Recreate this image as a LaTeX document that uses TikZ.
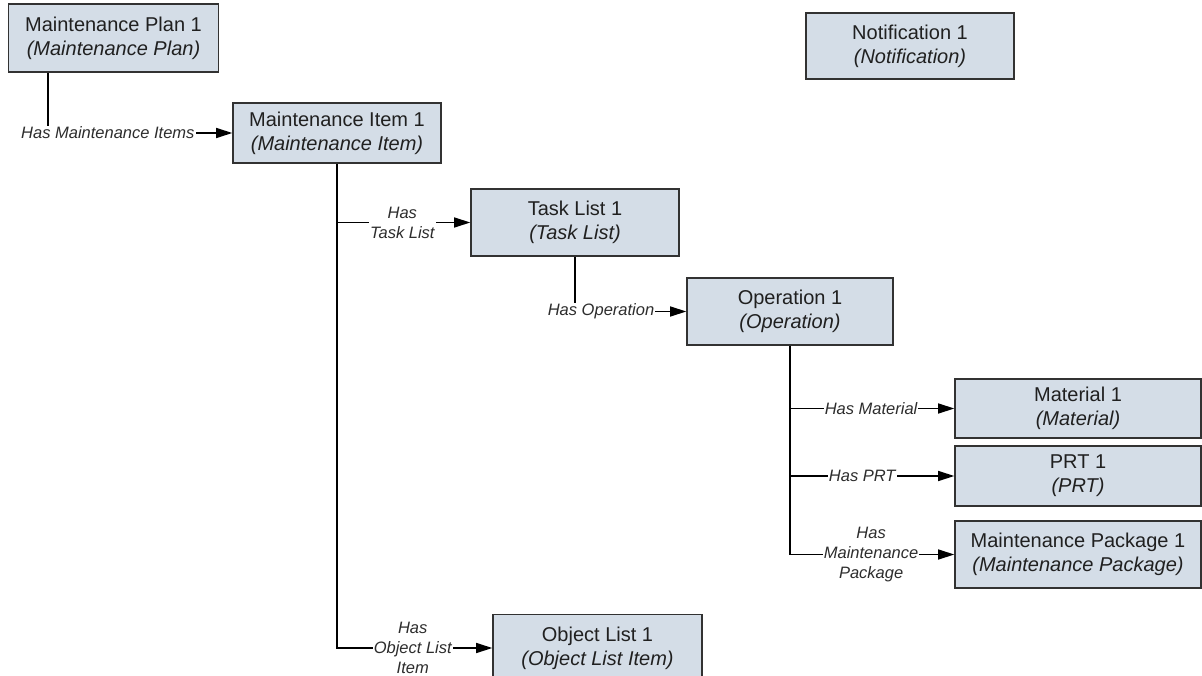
\documentclass[tikz,border=0pt]{standalone}
\usepackage{fontspec}
\setmainfont{Liberation Sans}
\usetikzlibrary{positioning, arrows.meta}
\definecolor{boxfill}{RGB}{212,221,231}
\definecolor{boxline}{RGB}{50,50,50}
\definecolor{boxtext}{RGB}{32,32,32}
\definecolor{labtext}{RGB}{45,45,45}

\begin{document}
\begin{tikzpicture}[x=1pt, y=-1pt,
  entity/.style={draw=boxline, fill=boxfill, line width=1.6pt, align=center,
    inner sep=0pt, text=boxtext, font=\fontsize{20}{24}\selectfont},
  rel/.style={draw=black, line width=1.6pt, -{Triangle[length=16pt,width=10pt]}},
  lab/.style={fill=white, inner sep=1pt, align=center, text=labtext,
    font=\fontsize{16.5}{20}\selectfont\itshape}]
  \useasboundingbox (0,0) rectangle (1202,676);

  \node[entity, minimum width=210pt, minimum height=68pt] (plan) at (113.5,38)
    {Maintenance Plan 1\\\textit{(Maintenance Plan)}};
  \node[entity, minimum width=208pt, minimum height=66pt] (notif) at (910,46)
    {Notification 1\\\textit{(Notification)}};
  \node[entity, minimum width=208pt, minimum height=60pt] (item) at (337,133)
    {Maintenance Item 1\\\textit{(Maintenance Item)}};
  \node[entity, minimum width=208pt, minimum height=67pt] (task) at (575,222.5)
    {Task List 1\\\textit{(Task List)}};
  \node[entity, minimum width=206pt, minimum height=67pt] (oper) at (790,311.5)
    {Operation 1\\\textit{(Operation)}};
  \node[entity, minimum width=246pt, minimum height=59pt] (mat) at (1078,408.5)
    {Material 1\\\textit{(Material)}};
  \node[entity, minimum width=246pt, minimum height=60pt] (prt) at (1078,476)
    {PRT 1\\\textit{(PRT)}};
  \node[entity, minimum width=246pt, minimum height=67pt] (pkg) at (1078,554.5)
    {Maintenance Package 1\\\textit{(Maintenance Package)}};
  \node[entity, minimum width=209pt, minimum height=67pt] (objl) at (597.5,648)
    {Object List 1\\\textit{(Object List Item)}};

  % relationships
  \draw[rel] ([xshift=40pt]plan.south west) |- node[lab, pos=0.663] {Has Maintenance Items} (item.west);
  \draw[rel] (item.south) |- node[lab, pos=0.745] {Has\\Task List} (task.west);
  \draw[rel] (item.south) |- node[lab, pos=0.744] {Has\\Object List\\Item} (objl.west);
  \draw[rel] (task.south) |- node[lab, pos=0.617] {Has Operation} (oper.west);
  \draw[rel] (oper.south) |- node[lab, pos=0.747] {Has Material} (mat.west);
  \draw[rel] (oper.south) |- node[lab, pos=0.72] {Has PRT} (prt.west);
  \draw[rel] (oper.south) |- node[lab, pos=0.747] {Has\\Maintenance\\Package} (pkg.west);
\end{tikzpicture}
\end{document}
